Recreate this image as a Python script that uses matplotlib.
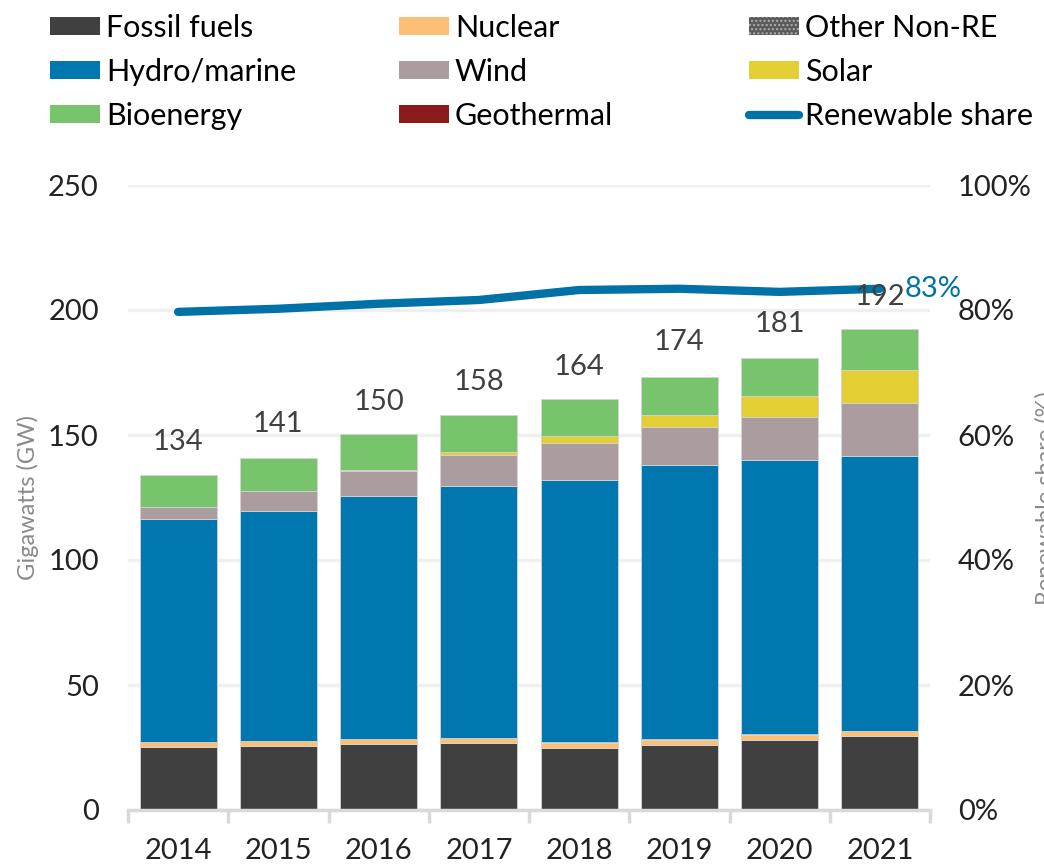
import numpy as np
import matplotlib
matplotlib.use("Agg")
from matplotlib import pyplot as plt
from matplotlib.patches import Patch
from matplotlib.lines import Line2D
from matplotlib.ticker import FuncFormatter

plt.rcParams['font.family'] = ['Lato', 'DejaVu Sans']
plt.rcParams['hatch.linewidth'] = 1.0

years = ['2014', '2015', '2016', '2017', '2018', '2019', '2020', '2021']
fossil = [25.2, 25.6, 26.4, 26.8, 24.9, 26.1, 28.1, 29.6]
nuclear = [2.0, 2.0, 2.0, 2.0, 2.0, 2.0, 2.0, 2.0]
other_non_re = [0, 0, 0, 0, 0.3, 0.3, 0.3, 0]
hydro = [89.3, 92.1, 97.2, 100.8, 104.8, 109.5, 109.7, 110.1]
wind = [4.8, 7.8, 10.1, 12.4, 14.9, 15.5, 17.2, 21.2]
solar = [0, 0.1, 0.4, 1.3, 2.6, 4.7, 8.2, 13.1]
geothermal = [0, 0, 0, 0, 0, 0, 0, 0]
bioenergy = [12.6, 13.3, 14.3, 14.6, 14.9, 15.3, 15.4, 16.4]
totals = [134, 141, 150, 158, 164, 174, 181, 192]
re_share = [79.7, 80.2, 81.0, 81.6, 83.2, 83.4, 82.9, 83.4]

colors = {
    'Fossil fuels': '#404040',
    'Nuclear': '#fdbf75',
    'Other Non-RE': '#5a5a5a',
    'Hydro/marine': '#0077ae',
    'Wind': '#aa9c9f',
    'Solar': '#e3cf34',
    'Bioenergy': '#78c46c',
    'Geothermal': '#8b1a1a',
}
line_color = '#0072a8'

W, H = 1044, 866
fig = plt.figure(figsize=(W / 100, H / 100), dpi=100)
ax = fig.add_axes([128 / W, 1 - 810 / H, 802 / W, 625 / H])

x = np.arange(len(years))
bw = 0.77
series = [('Fossil fuels', fossil), ('Nuclear', nuclear), ('Other Non-RE', other_non_re),
          ('Hydro/marine', hydro), ('Wind', wind), ('Solar', solar),
          ('Geothermal', geothermal), ('Bioenergy', bioenergy)]
bottom = np.zeros(len(years))
for name, vals in series:
    vals = np.array(vals, dtype=float)
    if name == 'Other Non-RE':
        ax.bar(x, vals, bw, bottom=bottom, color=colors[name], edgecolor='#b0b0b0',
               hatch='....', linewidth=0, zorder=3)
    else:
        ax.bar(x, vals, bw, bottom=bottom, color=colors[name], edgecolor='#d4d4d4',
               linewidth=0.6, zorder=3)
    bottom += vals

ax.set_xlim(-0.5, 7.5)
ax.set_ylim(0, 250)
ax.set_yticks([0, 50, 100, 150, 200, 250])
ax.yaxis.grid(True, color='#efefef', linewidth=2.5, zorder=0)
ax.set_axisbelow(True)
for s in ['top', 'left', 'right']:
    ax.spines[s].set_visible(False)
ax.spines['bottom'].set_color('#d9d9d9')
ax.spines['bottom'].set_linewidth(2.5)
ax.spines['bottom'].set_zorder(4)

ax.set_xticks(x)
ax.set_xticklabels(years)
ax.set_xticks(np.arange(-0.5, 8, 1), minor=True)
ax.tick_params(axis='x', which='major', length=0, pad=20, labelsize=21, labelcolor='#222222')
ax.tick_params(axis='x', which='minor', length=9, width=2.5, color='#d9d9d9', direction='out')
ax.tick_params(axis='y', length=0, pad=21, labelsize=21, labelcolor='#222222')

ax2 = ax.twinx()
ax2.set_ylim(0, 100)
ax2.set_yticks([0, 20, 40, 60, 80, 100])
ax2.yaxis.set_major_formatter(FuncFormatter(lambda v, p: f'{v:.0f}%'))
ax2.tick_params(axis='y', length=0, pad=20, labelsize=21, labelcolor='#222222')
for s in ax2.spines.values():
    s.set_visible(False)
ax2.plot(x, re_share, color=line_color, linewidth=6, solid_capstyle='round',
         solid_joinstyle='round', zorder=5)

for xi, t in zip(x, totals):
    ax2.annotate(f'{t}', (xi, t), xycoords=ax.transData, xytext=(0, 18),
                 textcoords='offset points', ha='center', va='baseline',
                 fontsize=21, color='#404040', zorder=6)
ax2.annotate(f'{re_share[-1]:.0f}%', (x[-1], re_share[-1]), xytext=(18, 0),
             textcoords='offset points', ha='left', va='center',
             fontsize=21, color=line_color, zorder=6)

fig.text(28 / W, 1 - 498 / H, 'Gigawatts (GW)', rotation=90, ha='center', va='center',
         fontsize=17, color='#8a8a8a')
# partly outside the figure, as in the source chart
fig.text(1046 / W, 1 - 498 / H, 'Renewable share (%)', rotation=90, ha='center', va='center',
         fontsize=17, color='#8a8a8a')

def patch(name):
    if name == 'Other Non-RE':
        return Patch(facecolor=colors[name], edgecolor='#b0b0b0', hatch='....',
                     linewidth=0, label=name)
    return Patch(facecolor=colors[name], linewidth=0, label=name)

cols = [
    [patch('Fossil fuels'), patch('Hydro/marine'), patch('Bioenergy')],
    [patch('Nuclear'), patch('Wind'), patch('Geothermal')],
    [patch('Other Non-RE'), patch('Solar'),
     Line2D([], [], color=line_color, linewidth=6, solid_capstyle='round', label='Renewable share')],
]
xs = [50, 399, 749]
for hx, hs in zip(xs, cols):
    fig.legend(handles=hs, loc='upper left', bbox_to_anchor=(hx / W, 1 - 14 / H),
               frameon=False, fontsize=22, handlelength=1.63, handleheight=0.55,
               handletextpad=0.2, labelspacing=0.52, borderpad=0, borderaxespad=0)

fig.savefig('out.png', dpi=100)
